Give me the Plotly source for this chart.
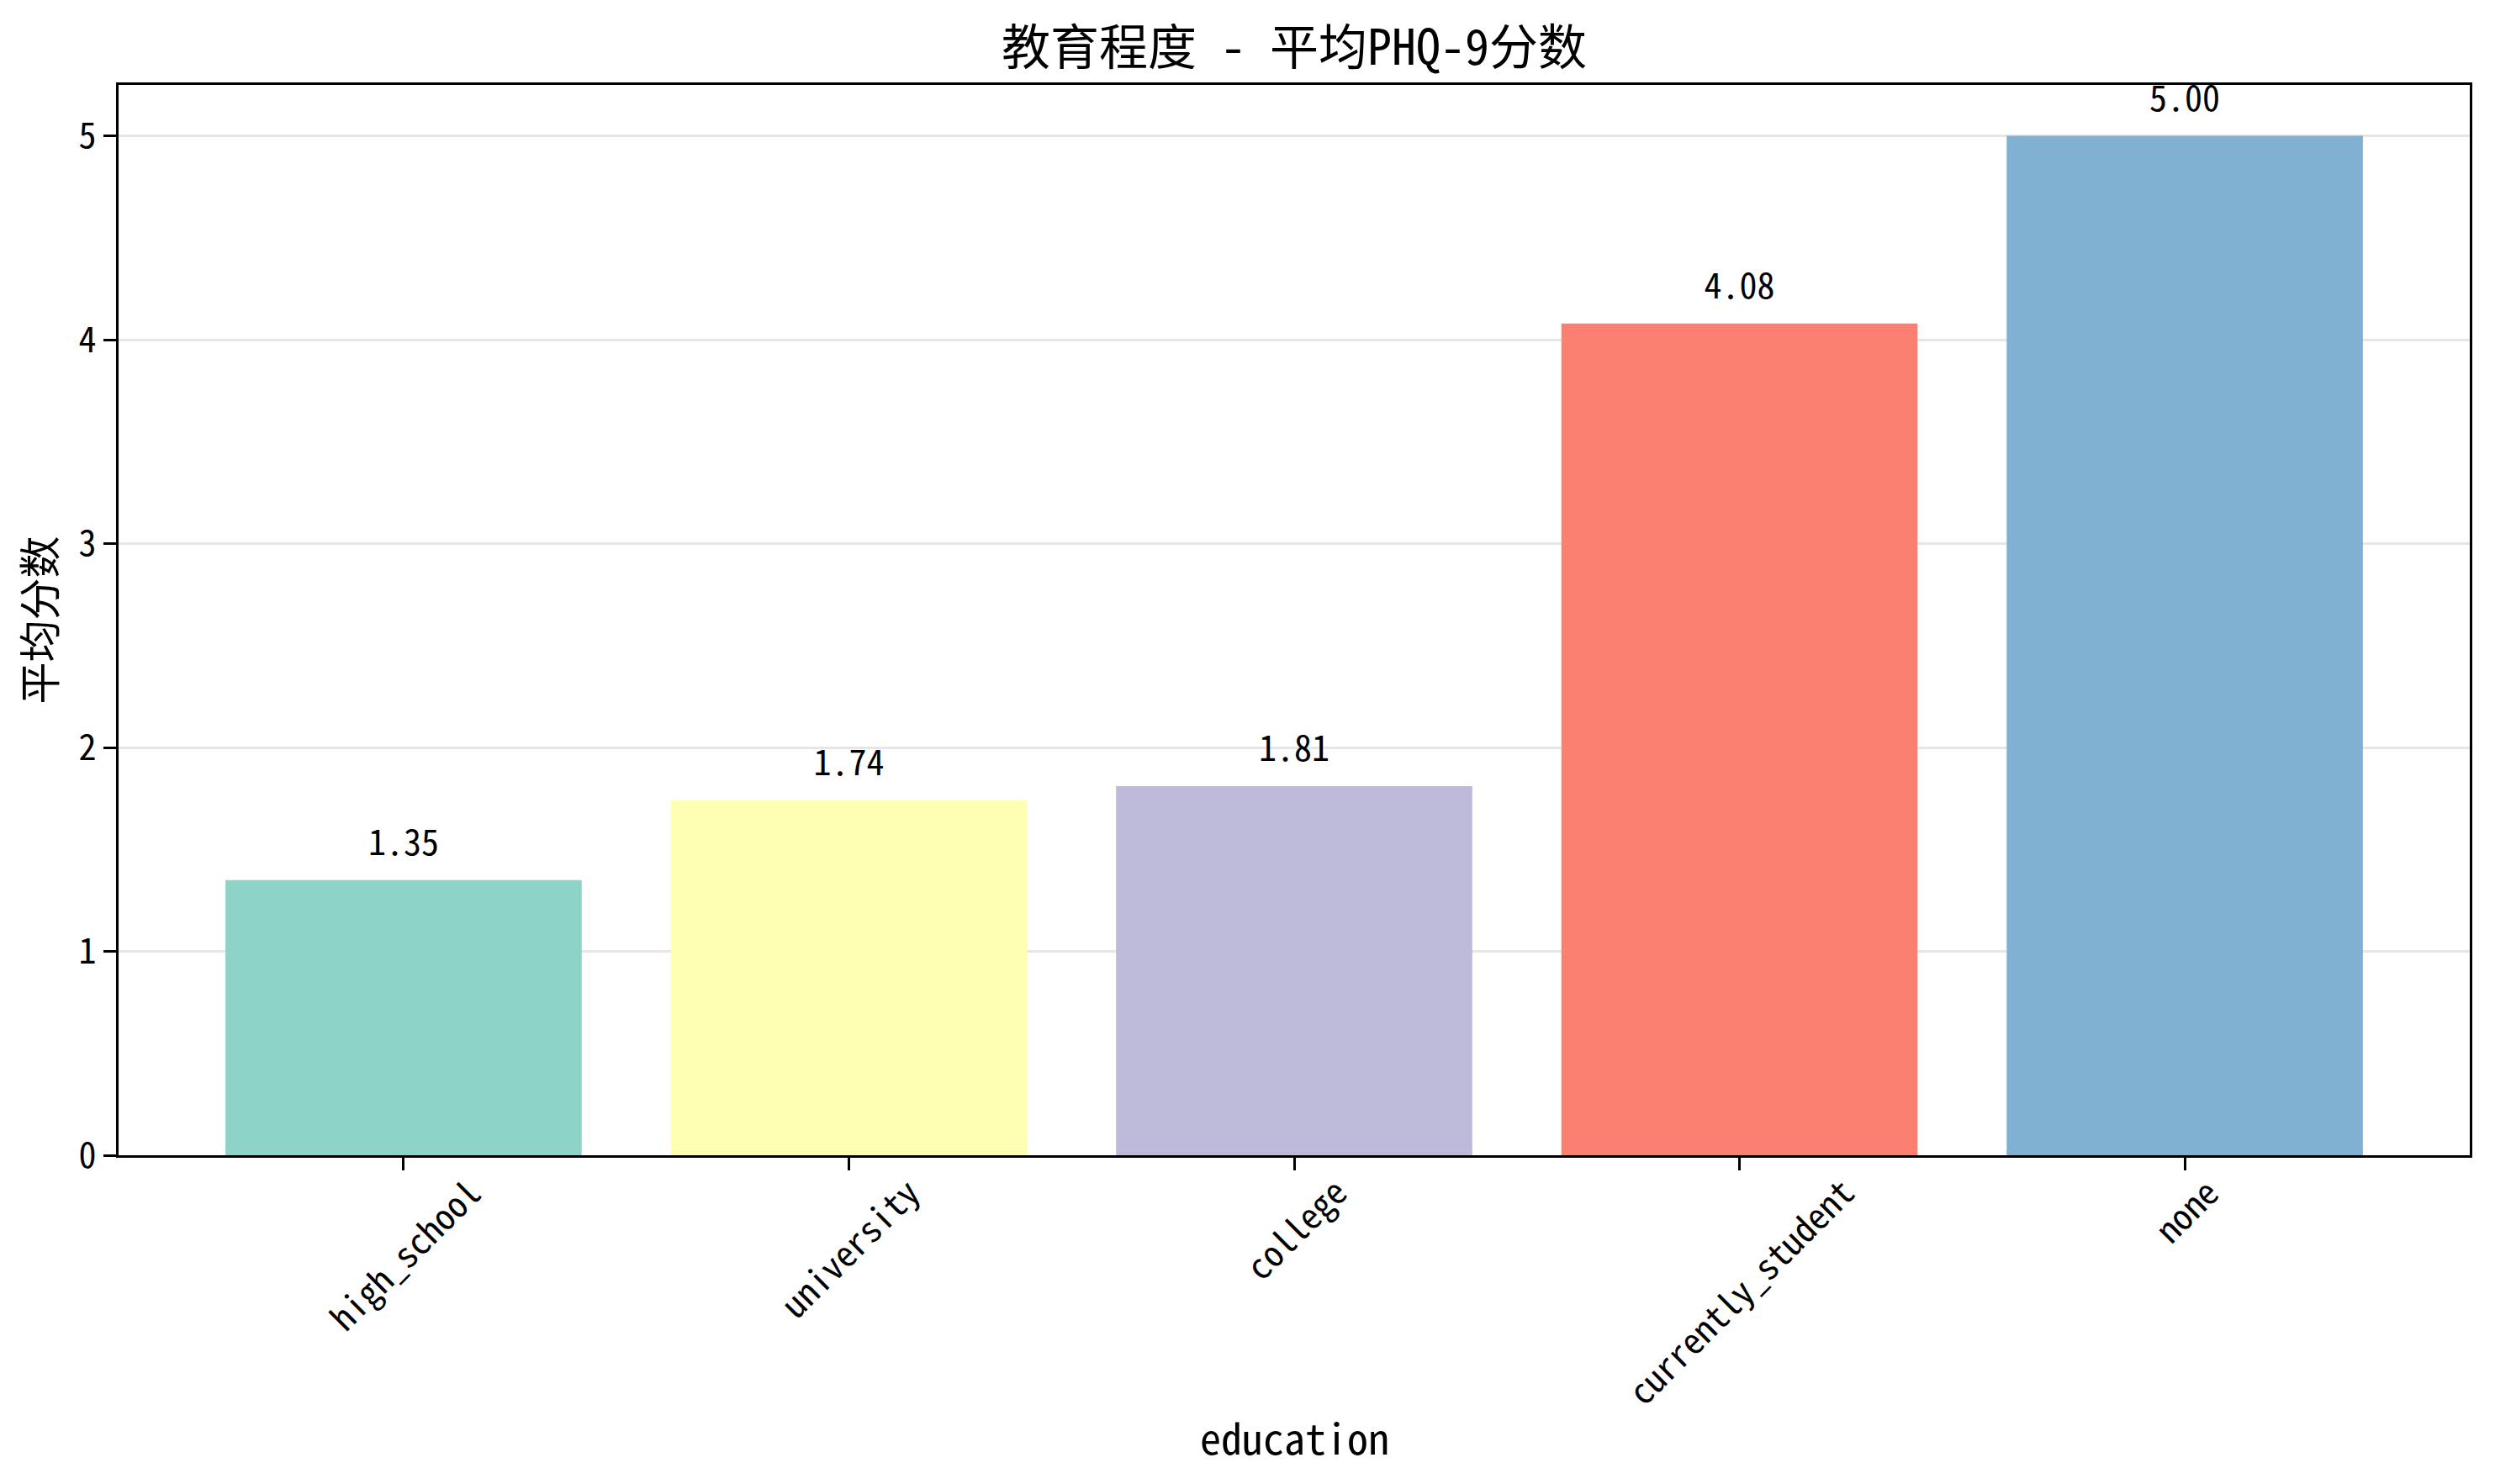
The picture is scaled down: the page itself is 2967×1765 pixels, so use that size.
import plotly.graph_objects as go

# mean PHQ-9 score per education level
education = ["high_school", "university", "college", "currently_student", "none"]
mean_scores = [1.35, 1.74, 1.81, 4.08, 5.00]
bar_colors = ["#8dd3c7", "#ffffb3", "#bebada", "#fb8072", "#80b1d3"]
y_ticks = [0, 1, 2, 3, 4, 5]

# the page body adds an 8px offset, so the figure is drawn 8px smaller
OFF = 8
W, H = 2967 - OFF, 1765 - OFF
L, R, T, B = 141 - OFF, 30, 101 - OFF, 391
PLOT_H = H - T - B
FONT = "Noto Sans Mono CJK SC, SimHei, Liberation Mono, Noto Sans CJK SC"

x_pos = list(range(len(education)))

fig = go.Figure()

fig.add_trace(go.Bar(
    x=x_pos,
    y=mean_scores,
    width=0.8,
    marker=dict(color=bar_colors, line=dict(width=0)),
    showlegend=False,
))

# value labels above each bar
fig.add_trace(go.Scatter(
    x=x_pos,
    y=[v + 0.08 for v in mean_scores],
    mode="text",
    text=[f"{v:.2f}" for v in mean_scores],
    textposition="top center",
    textfont=dict(size=42, color="black", family=FONT),
    showlegend=False,
    cliponaxis=False,
))

# rotated category labels, centred on the ticks like matplotlib
for xi, name in zip(x_pos, education):
    fig.add_annotation(
        x=xi, y=0, xref="x", yref="paper",
        text=name, showarrow=False, textangle=-45,
        xanchor="center", yanchor="top", yshift=-10,
        font=dict(size=42, color="black", family=FONT),
    )

# x axis title
fig.add_annotation(
    x=0.5, y=-(1708 - OFF - (H - B)) / PLOT_H, xref="paper", yref="paper",
    text="education", showarrow=False,
    xanchor="center", yanchor="middle",
    font=dict(size=50, color="black", family=FONT),
)

fig.update_layout(
    width=W, height=H,
    margin=dict(l=L, r=R, t=T, b=B, autoexpand=False),
    paper_bgcolor="white",
    plot_bgcolor="white",
    font=dict(family=FONT, color="black"),
    title=dict(
        text="教育程度 - 平均PHQ-9分数",
        x=(L + (W - R)) / 2 / W, xanchor="center", xref="container",
        y=1 - (57 - OFF) / H, yanchor="middle", yref="container",
        font=dict(size=58, color="black", family=FONT),
    ),
)

fig.update_xaxes(
    range=[-0.64, 4.64],
    tickvals=x_pos,
    showticklabels=False,
    automargin=False,
    ticks="outside", ticklen=15, tickwidth=3, tickcolor="black",
    showline=True, linecolor="black", linewidth=3, mirror=True,
    showgrid=False, zeroline=False,
)

fig.update_yaxes(
    range=[0, 5.25],
    tickvals=y_ticks,
    automargin=False,
    ticks="outside", ticklen=15, tickwidth=3, tickcolor="black",
    tickfont=dict(size=42, family=FONT),
    showline=True, linecolor="black", linewidth=3, mirror=True,
    showgrid=True, gridcolor="#e6e6e6", gridwidth=3,
    zeroline=False,
    title=dict(text="平均分数", font=dict(size=50, family=FONT), standoff=30),
)

fig.write_html("out.html")
